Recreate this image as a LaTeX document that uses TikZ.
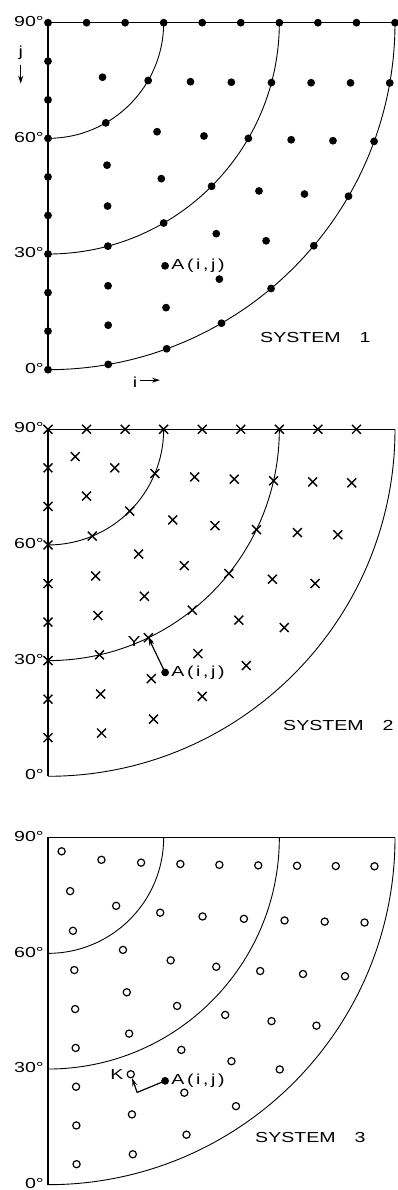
\documentclass[tikz,border=0pt]{standalone}
\usepackage{fontspec}
\usepackage{tikz}
\usetikzlibrary{arrows.meta, shapes.misc}
\newfontfamily\lettering[FakeStretch=1.35]{Liberation Sans}

\begin{document}
\begin{tikzpicture}[
    x=1pt, y=1pt,
    axisline/.style={line width=1.4pt},
    arcline/.style={line width=0.9pt},
    dotmark/.style={circle, fill, minimum size=7.8pt, inner sep=0pt},
    crossmark/.style={cross out, draw, minimum size=7.5pt, inner sep=0pt, line width=1.4pt},
    ringmark/.style={circle, draw, minimum size=7.2pt, inner sep=0pt, line width=1.2pt},
    lettertxt/.style={font=\lettering\fontsize{14.5}{14.5}\selectfont, inner sep=0pt},
    deglbl/.style={lettertxt, anchor=east},
    ptarrow/.style={-{Stealth[length=8pt,width=5pt]}, line width=1.2pt},
]
\def\R{347}
\def\dr{38.556}
\useasboundingbox (0,0) rectangle (397,1190);

% Frames: meridians, latitude arcs, degree labels
\foreach \py in {1167.3, 760.7, 352.3} {
  \begin{scope}[shift={(48,\py)}]
    \draw[axisline] (0,-\R) -- (0,0) -- (\R,0);
    \foreach \k in {1,2,3}
      \draw[arcline] (0,{-\k*\R/3}) arc[start angle=-90, end angle=0, radius={\k*\R/3}];
    \node[deglbl] (lat90) at (-4,1.3) {90°};
    \node[deglbl] (lat60) at (-4,{-\R/3+1.3}) {60°};
    \node[deglbl] (lat30) at (-4,{-2*\R/3+1.3}) {30°};
    \node[deglbl] (lat0) at (-4,{-\R+1.3}) {0°};
  \end{scope}
}

% System 1
\begin{scope}[shift={(48,1167.3)}]
  \node[dotmark] (s1-0-0) at (0,0) {};
  \foreach \k in {1,...,9}
    \foreach \m in {0,...,\k}
      \node[dotmark] (s1-\k-\m) at ({-90*\m/\k}:{\k*\dr}) {};
  \node[lettertxt, anchor=west] (lblA1) at ([xshift=2pt]s1-7-5.east) {\addfontfeature{LetterSpace=18}A(i,j)};
  \node[lettertxt] (jlbl) at (-27.3,-30) {j};
  \coordinate (jtop) at (-27.3,-42);
  \coordinate (jbot) at (-27.3,-61);
  \draw[ptarrow] (jtop) -- (jbot);
  \node[lettertxt] (ilbl) at (87,-360) {i};
  \coordinate (ileft) at (92,-357.5);
  \coordinate (iright) at (112,-357.5);
  \draw[ptarrow] (ileft) -- (iright);
  \node[lettertxt, anchor=west] (sys1) at (212,-315) {SYSTEM\hspace{19pt}1};
\end{scope}

% System 2
\begin{scope}[shift={(48,760.7)}]
  \node[crossmark] (s2-0-0) at (0,0) {};
  \foreach \k in {1,...,8} {
    \pgfmathtruncatemacro{\mmax}{\k+1}
    \foreach \m in {0,...,\mmax}
      \node[crossmark] (s2-\k-\m) at ({-90*\m/(\k+1)}:{\k*\dr}) {};
  }
  \node[dotmark] (A2) at ({-90*5/7}:{7*\dr}) {};
  \node[lettertxt, anchor=west] (lblA2) at ([xshift=2pt]A2.east) {\addfontfeature{LetterSpace=18}A(i,j)};
  \draw[ptarrow] (A2.center) -- (s2-6-5.center);
  \node[lettertxt, anchor=east] (lblY) at ([xshift=-3pt,yshift=-4pt]s2-6-5.west) {Y};
  \node[lettertxt, anchor=west] (sys2) at (235,-296) {SYSTEM\hspace{19pt}2};
\end{scope}

% System 3
\begin{scope}[shift={(48,352.3)}]
  \foreach \k in {0,...,8}
    \foreach \m in {0,...,\k}
      \node[ringmark] (s3-\k-\m) at ({-90*(\m+0.5)/(\k+1)}:{(\k+0.5)*\dr}) {};
  \node[dotmark] (A3) at ({-90*5/7}:{7*\dr}) {};
  \node[lettertxt, anchor=west] (lblA3) at ([xshift=2pt]A3.east) {\addfontfeature{LetterSpace=18}A(i,j)};
  \coordinate (bend) at ({-90*5.5/7}:{7*\dr});
  \draw[ptarrow] (A3.center) -- (bend) -- (s3-6-5);
  \node[lettertxt, anchor=east] (lblK) at ([xshift=-3pt]s3-6-5.west) {K};
  \node[lettertxt, anchor=west] (sys3) at (207,-300) {SYSTEM\hspace{19pt}3};
\end{scope}

\end{tikzpicture}
\end{document}
